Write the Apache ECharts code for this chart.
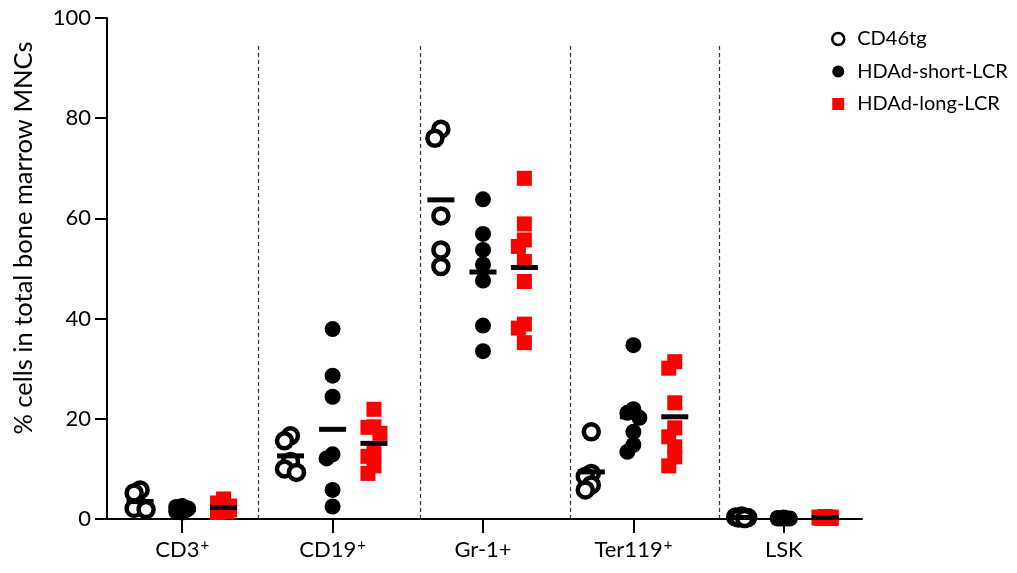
<!DOCTYPE html>
<html>
<head>
<meta charset="utf-8">
<script src="https://cdn.jsdelivr.net/npm/echarts@6/dist/echarts.min.js"></script>
<style>
html,body{margin:0;padding:0;background:#fff}
#main{width:1017px;height:573px}
</style>
</head>
<body>
<div id="main"></div>
<script>
// categories and groups ({sup|+} = superscript plus)
var categories=['CD3{sup|+}','CD19{sup|+}','Gr-1+','Ter119{sup|+}','LSK'];
var groups=['CD46tg','HDAd-short-LCR','HDAd-long-LCR'];

// % cells per animal, one list per category
var cd46tg=[
  [5.8,5.2,2.5,2.1,1.9],
  [16.6,15.6,11.5,10.0,9.3],
  [77.8,76.0,60.5,53.7,50.4],
  [17.4,9.1,8.5,6.8,5.8],
  [0.6,0.4,0.3,0.2,0.1]
];
var shortLcr=[
  [2.6,2.4,2.1,1.9,1.7,1.5,1.3],
  [37.9,28.6,24.4,12.9,12.1,5.8,2.5],
  [63.8,56.9,53.7,50.8,47.6,38.6,33.5],
  [34.7,21.9,21.2,20.2,17.4,14.8,13.4],
  [0.3,0.2,0.1,0.1,0.1,0.1,0.1]
];
var longLcr=[
  [4.0,3.2,2.6,2.3,2.0,1.8,1.6,1.4,1.3],
  [21.9,18.4,18.3,17.1,13.4,12.5,10.6,9.1],
  [68.0,58.9,55.7,54.4,51.4,47.4,38.9,38.1,35.2],
  [31.4,30.1,23.2,18.2,16.4,14.4,12.4,10.6],
  [0.5,0.4,0.4,0.3,0.3,0.2,0.2,0.1,0.1]
];
// mean bars
var meanCd46tg=[3.5,12.6,63.7,9.4,0.3];
var meanShort=[1.9,17.9,49.3,20.4,0.1];
var meanLong=[2.3,15.1,50.2,20.4,0.3];
// dashed separators (x axis units)
var separators=[0.505,1.585,2.58,3.57];

var FONT='Lato, "Liberation Sans", sans-serif';
var X_MIN=-0.5, X_MAX=4.52;
var G_LEFT=107, G_RIGHT=155, G_TOP=18, G_BOTTOM=54;
var W=1017, H=573;
var pxX=(W-G_LEFT-G_RIGHT)/(X_MAX-X_MIN);
var pxY=(H-G_TOP-G_BOTTOM)/100;
var offsets=[-0.28,0,0.275];

//点的简单蜂群排列，横向最多偏移 maxSpread 像素
var swarm=function(values,center,minDist,maxSpread){
  var placed=[];
  var order=values.map(function(v,i){return i;}).sort(function(a,b){return values[b]-values[a];});
  var out=[];
  for(var o=0;o<order.length;o++){
    var v=values[order[o]];
    var best=0,bestD=-1;
    for(var k=0;k<40;k++){
      var cand=(k%2===0?1:-1)*Math.ceil(k/2)*3;
      if(Math.abs(cand)>maxSpread) break;
      var dmin=1e9;
      for(var p=0;p<placed.length;p++){
        var ddx=cand-placed[p][0], ddy=(v-placed[p][1])*pxY;
        dmin=Math.min(dmin,Math.sqrt(ddx*ddx+ddy*ddy));
      }
      if(dmin>=minDist){best=cand;break;}
      if(dmin>bestD){bestD=dmin;best=cand;}
    }
    placed.push([best,v]);
    out.push([center+best/pxX,v]);
  }
  return out;
}

var buildPoints=function(arr,g){
  var pts=[];
  for(var i=0;i<arr.length;i++){
    pts=pts.concat(swarm(arr[i],i+offsets[g],10,7));
  }
  return pts;
}
var buildMeans=function(arr,g){
  var pts=[];
  for(var i=0;i<arr.length;i++){
    pts.push([i+offsets[g],arr[i]]);
  }
  return pts;
}

var sepLines=[];
for(var s=0;s<separators.length;s++){
  sepLines.push([{coord:[separators[s],0]},{coord:[separators[s],95]}]);
}

var meanSeries=function(arr,g){
  return {
    type:'scatter',
    data:buildMeans(arr,g),
    symbol:'rect',
    symbolSize:[27,5],
    itemStyle:{color:'#000',opacity:1},
    z:10,
    silent:true
  };
}

var option={
  animation:false,
  backgroundColor:'#fff',
  grid:{left:G_LEFT,right:G_RIGHT,top:G_TOP,bottom:G_BOTTOM},
  legend:{
    orient:'vertical',
    left:826,
    top:24,
    itemWidth:12,
    itemHeight:12,
    itemGap:12.5,
    textStyle:{fontSize:20,lineHeight:20,color:'#000',fontFamily:FONT,padding:[0,0,0,8]},
    data:[
      {name:groups[0],itemStyle:{borderWidth:2.5}},
      groups[1],
      groups[2]
    ]
  },
  graphic:[{
    type:'text',
    x:24,
    y:238,
    rotation:Math.PI/2,
    style:{
      text:'% cells in total bone marrow MNCs',
      fontSize:25.5,
      fontFamily:FONT,
      fill:'#000',
      align:'center',
      verticalAlign:'middle'
    }
  }],
  xAxis:{
    type:'value',
    min:X_MIN,
    max:X_MAX,
    splitLine:{show:false},
    axisLine:{lineStyle:{color:'#000',width:2}},
    axisTick:{customValues:[0,1,2,3,4],length:14,lineStyle:{color:'#000',width:2}},
    axisLabel:{
      customValues:[0,1,2,3,4],
      margin:19,
      fontSize:22,
      lineHeight:24,
      color:'#000',
      fontFamily:FONT,
      formatter:function(v){return categories[Math.round(v)];},
      rich:{
        sup:{fontSize:15,lineHeight:24,verticalAlign:'top',color:'#000',fontFamily:FONT,padding:[0,0,10,1]}
      }
    }
  },
  yAxis:{
    type:'value',
    min:0,
    max:100,
    interval:20,
    splitLine:{show:false},
    axisLine:{show:true,onZero:false,lineStyle:{color:'#000',width:2}},
    axisTick:{show:true,length:12,lineStyle:{color:'#000',width:2}},
    axisLabel:{margin:16,fontSize:22,color:'#000',fontFamily:FONT}
  },
  series:[
    {
      name:groups[0],
      type:'scatter',
      data:buildPoints(cd46tg,0),
      symbol:'circle',
      symbolSize:15,
      itemStyle:{color:'#fff',borderColor:'#000',borderWidth:4.5,opacity:1},
      z:3
    },
    {
      name:groups[1],
      type:'scatter',
      data:buildPoints(shortLcr,1),
      symbol:'circle',
      symbolSize:16,
      itemStyle:{color:'#000',opacity:1},
      z:3
    },
    {
      name:groups[2],
      type:'scatter',
      data:buildPoints(longLcr,2),
      symbol:'rect',
      symbolSize:15,
      itemStyle:{color:'#ff0000',opacity:1},
      z:3
    },
    meanSeries(meanCd46tg,0),
    meanSeries(meanShort,1),
    meanSeries(meanLong,2),
    {
      type:'scatter',
      data:[],
      silent:true,
      markLine:{
        silent:true,
        symbol:'none',
        label:{show:false},
        lineStyle:{color:'#333',width:1.2,type:[4,3]},
        data:sepLines
      }
    }
  ]
};

var myChart=echarts.init(document.getElementById('main'));
myChart.setOption(option);
</script>
</body>
</html>
